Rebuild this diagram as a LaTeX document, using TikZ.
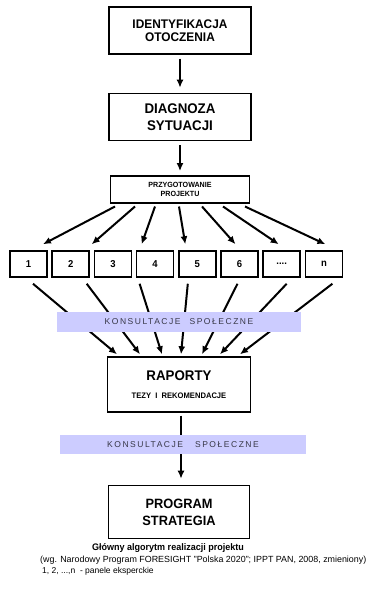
\documentclass[tikz,border=0pt]{standalone}
\usepackage{fontspec}
\setmainfont{Liberation Sans}
\newfontfamily\headfont{Liberation Sans}[FakeStretch=0.95]
\newfontfamily\bandfont{Liberation Sans}[LetterSpace=18]
\usepackage{tikz}
\usetikzlibrary{positioning,calc,arrows.meta}
\definecolor{bandclr}{RGB}{204,204,255}
\definecolor{bandtxt}{RGB}{55,55,70}
\tikzset{ %
  ,x=1pt, y=-1pt
  ,>={Latex[length=8pt,width=7pt]}
  ,box/.style={draw, line width=1.4pt, align=center, inner sep=0, minimum width=142pt, font=\headfont\bfseries}
  ,panel/.style={draw, line width=1.5pt, inner sep=0, minimum width=37pt, minimum height=26pt, node distance=3.7pt, font=\headfont\bfseries\fontsize{10}{12}\selectfont}
  ,band/.style={fill=bandclr, inner sep=0, minimum height=20pt, text=bandtxt, font=\bandfont\fontsize{8.5}{10}\selectfont}
  ,arr/.style={->, line width=2pt}
}

\begin{document}
\begin{tikzpicture}
  \useasboundingbox (0,0) rectangle (370,599);
  % glowna kolumna
  \node[box, minimum height=47pt, font=\headfont\bfseries\fontsize{12.5}{13}\selectfont] (ident) at (180,30.5) {IDENTYFIKACJA\\OTOCZENIA};
  \node[box, minimum height=47pt, below=38pt of ident, font=\headfont\bfseries\fontsize{14}{17}\selectfont] (diag) {DIAGNOZA\\SYTUACJI};
  \node[box, minimum width=139pt, minimum height=27pt, below=34pt of diag, font=\headfont\bfseries\fontsize{7.5}{8.5}\selectfont] (przyg) {PRZYGOTOWANIE\\PROJEKTU};
  % panele
  \node[panel] (p1) at (28.5,264) {1};
  \node[panel, right=of p1] (p2) {2};
  \node[panel, right=of p2] (p3) {3};
  \node[panel, right=of p3] (p4) {4};
  \node[panel, right=of p4] (p5) {5};
  \node[panel, right=of p5] (p6) {6};
  \node[panel, right=of p6] (p7) {....};
  \node[panel, right=of p7] (p8) {n};
  \node[box, minimum width=143pt, minimum height=55pt, font=\headfont\bfseries\fontsize{14}{17}\selectfont] (raport) at (179,384.5)
    {RAPORTY\\[1pt]{\fontsize{8}{9}\selectfont TEZY~~I~~REKOMENDACJE}};
  \node[box, minimum width=141pt, minimum height=53pt, below=72pt of raport, font=\headfont\bfseries\fontsize{13.5}{17}\selectfont] (prog) {PROGRAM\\STRATEGIA};

  \draw[arr] ($(ident.south)+(0,4)$) -- ($(diag.north)+(0,-5)$);
  \draw[arr] ($(diag.south)+(0,4)$) -- ($(przyg.north)+(0,-4)$);

  \draw[arr] ($(przyg.south)+(-65,3)$) -- ($(p1.north)+(14.5,-6)$);
  \draw[arr] ($(przyg.south)+(-45,3)$) -- ($(p2.north)+(21,-6)$);
  \draw[arr] ($(przyg.south)+(-25,3)$) -- ($(p4.north)+(-13.5,-6)$);
  \draw[arr] ($(przyg.south)+(-1,3)$) -- ($(p5.north)+(-12,-6)$);
  \draw[arr] ($(przyg.south)+(22,3)$) -- ($(p6.north)+(-4,-6)$);
  \draw[arr] ($(przyg.south)+(43,3)$) -- ($(p7.north)+(-3,-6)$);
  \draw[arr] ($(przyg.south)+(65,3)$) -- ($(p8.north)+(1.5,-6)$);

  \draw[arr] ($(p1.south)+(4.5,6)$) -- ($(raport.north)+(-62,-2)$);
  \draw[arr] ($(p2.south)+(16,6)$) -- ($(raport.north)+(-39,-2)$);
  \draw[arr] ($(p4.south)+(-15.5,6)$) -- ($(raport.north)+(-17,-2)$);
  \draw[arr] ($(p5.south)+(-9.5,6)$) -- ($(raport.north)+(2,-2)$);
  \draw[arr] ($(p6.south)+(-2,6)$) -- ($(raport.north)+(23,-2)$);
  \draw[arr] ($(p7.south)+(5,6)$) -- ($(raport.north)+(41,-2)$);
  \draw[arr] ($(p8.south)+(8.5,6)$) -- ($(raport.north)+(61,-2)$);

  \draw[arr] ($(raport.south)+(2,3)$) -- ($(prog.north)+(2,-6)$);

  % konsultacje na strzalkach
  \node[band, minimum width=244pt] (kons1) at (179,322) {KONSULTACJE\hspace{9pt}SPOŁECZNE\hspace{8pt}};
  \node[band, minimum width=246pt, minimum height=19pt] (kons2) at (183,444.5) {KONSULTACJE\hspace{12pt}SPOŁECZNE\hspace{8pt}};

  % podpis
  \node[font=\headfont\bfseries\fontsize{9.5}{11}\selectfont] (tytul) at (168,548) {Główny algorytm realizacji projektu};
  \node[anchor=west, inner sep=0, font=\fontsize{8.9}{10}\selectfont] (zrodlo) at (40,560)
    {(wg. Narodowy Program FORESIGHT "Polska 2020"; IPPT PAN, 2008, zmieniony)};
  \node[anchor=west, inner sep=0, font=\fontsize{8.5}{10}\selectfont] (legenda) at (42,571) {1, 2, ...,n~ - panele eksperckie};
\end{tikzpicture}
\end{document}
